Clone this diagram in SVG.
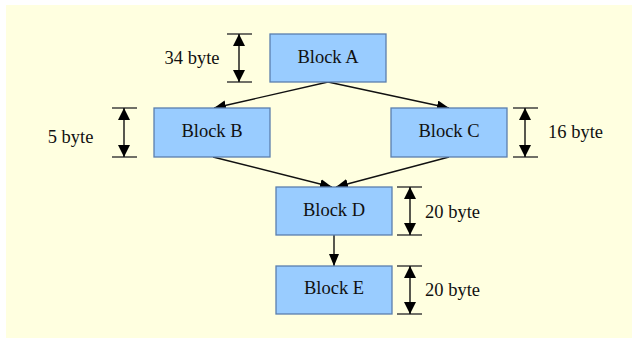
<svg xmlns="http://www.w3.org/2000/svg" width="632" height="338" viewBox="0 0 632 338">
<defs>
<style>
.blk rect{fill:#99ccff;stroke:#5b7fae;stroke-width:1.3}
text{font-family:"Liberation Serif","Times New Roman",serif;font-size:18.5px;fill:#111}
.c{text-anchor:middle}
.ln{stroke:#111;stroke-width:1.4;fill:none}
.tk{stroke:#333;stroke-width:1.4}
</style>
<marker id="ah" viewBox="0 0 12 10" refX="12" refY="5" markerWidth="12" markerHeight="10" markerUnits="userSpaceOnUse" orient="auto"><path d="M0,0 L12,5 L0,10 Z" fill="#000"/></marker>
<marker id="dh" viewBox="0 0 13 12" refX="12" refY="6" markerWidth="13" markerHeight="12" markerUnits="userSpaceOnUse" orient="auto"><path d="M0,0 L12,6 L0,12 Z" fill="#000"/></marker>
</defs>
<rect x="6" y="5" width="632" height="340" fill="#ffffe0"/>
<g id="connectors">
<line class="ln" x1="328" y1="82" x2="214" y2="108" marker-end="url(#ah)"/>
<line class="ln" x1="328" y1="82" x2="449" y2="108" marker-end="url(#ah)"/>
<line class="ln" x1="213" y1="157" x2="332" y2="187" marker-end="url(#ah)"/>
<line class="ln" x1="449" y1="157" x2="336" y2="187" marker-end="url(#ah)"/>
<line class="ln" x1="334" y1="235" x2="334" y2="266" marker-end="url(#ah)"/>
</g>
<g id="blockA" class="blk"><rect x="270" y="34" width="116" height="48"/><text class="c" x="328" y="62.5">Block A</text></g>
<g id="blockB" class="blk"><rect x="154" y="108" width="116" height="49"/><text class="c" x="212" y="137">Block B</text></g>
<g id="blockC" class="blk"><rect x="391" y="108" width="116" height="49"/><text class="c" x="449" y="137">Block C</text></g>
<g id="blockD" class="blk"><rect x="276" y="187" width="116" height="48"/><text class="c" x="334" y="215.5">Block D</text></g>
<g id="blockE" class="blk"><rect x="276" y="266" width="116" height="48"/><text class="c" x="334" y="294">Block E</text></g>
<g id="dimA">
<line class="tk" x1="227" y1="34" x2="252" y2="34"/><line class="tk" x1="227" y1="82" x2="252" y2="82"/>
<line class="ln" x1="239" y1="58" x2="239" y2="34" marker-end="url(#dh)"/><line class="ln" x1="239" y1="58" x2="239" y2="82" marker-end="url(#dh)"/>
<text class="c" x="192" y="64">34 byte</text>
</g>
<g id="dimB">
<line class="tk" x1="112" y1="108" x2="137" y2="108"/><line class="tk" x1="112" y1="157" x2="137" y2="157"/>
<line class="ln" x1="124" y1="132" x2="124" y2="108" marker-end="url(#dh)"/><line class="ln" x1="124" y1="132" x2="124" y2="157" marker-end="url(#dh)"/>
<text class="c" x="70.5" y="142.5">5 byte</text>
</g>
<g id="dimC">
<line class="tk" x1="513" y1="108" x2="538" y2="108"/><line class="tk" x1="513" y1="157" x2="538" y2="157"/>
<line class="ln" x1="525" y1="132" x2="525" y2="108" marker-end="url(#dh)"/><line class="ln" x1="525" y1="132" x2="525" y2="157" marker-end="url(#dh)"/>
<text x="548" y="138">16 byte</text>
</g>
<g id="dimD">
<line class="tk" x1="397" y1="187" x2="422" y2="187"/><line class="tk" x1="397" y1="235" x2="422" y2="235"/>
<line class="ln" x1="410" y1="211" x2="410" y2="187" marker-end="url(#dh)"/><line class="ln" x1="410" y1="211" x2="410" y2="235" marker-end="url(#dh)"/>
<text x="425" y="217.5">20 byte</text>
</g>
<g id="dimE">
<line class="tk" x1="397" y1="266" x2="422" y2="266"/><line class="tk" x1="397" y1="314" x2="422" y2="314"/>
<line class="ln" x1="410" y1="290" x2="410" y2="266" marker-end="url(#dh)"/><line class="ln" x1="410" y1="290" x2="410" y2="314" marker-end="url(#dh)"/>
<text x="425" y="296">20 byte</text>
</g>
</svg>
